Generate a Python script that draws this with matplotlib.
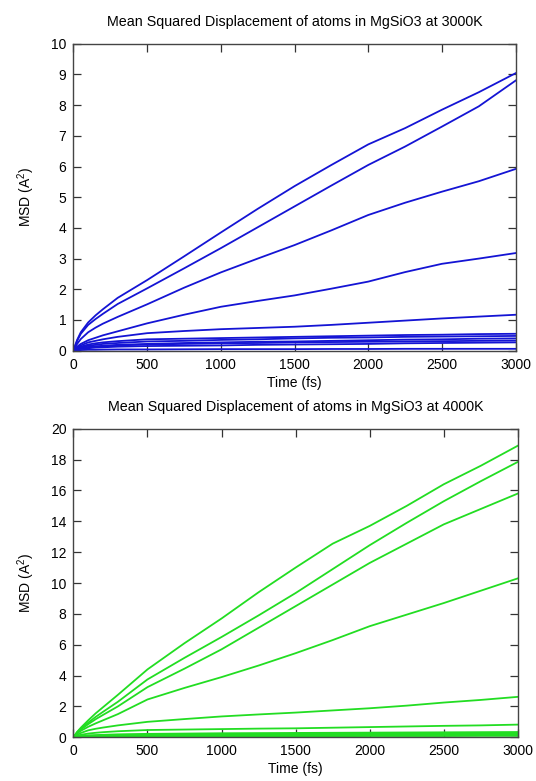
#!/usr/bin/env python3
'''MSD of atoms in MgSiO3 at 3000K and 4000K'''
import matplotlib.pyplot as plt

plt.rcParams['font.family'] = ['Liberation Sans', 'DejaVu Sans']
plt.rcParams['mathtext.fontset'] = 'custom'
plt.rcParams['mathtext.rm'] = 'Liberation Sans'

time_fs = [0, 25, 50, 100, 150, 200, 300, 500, 750, 1000, 1250, 1500, 1750,
           2000, 2250, 2500, 2750, 3000]

# 3000 K curves (A^2)
msd_3000 = [
    [0, 0.35, 0.60, 0.92, 1.15, 1.35, 1.72, 2.30, 3.07, 3.85, 4.62, 5.36, 6.05, 6.72, 7.25, 7.85, 8.42, 9.04],
    [0, 0.32, 0.55, 0.84, 1.03, 1.20, 1.52, 2.03, 2.68, 3.34, 4.02, 4.70, 5.38, 6.05, 6.65, 7.30, 7.96, 8.80],
    [0, 0.22, 0.38, 0.60, 0.75, 0.88, 1.10, 1.51, 2.05, 2.55, 3.00, 3.44, 3.92, 4.42, 4.82, 5.18, 5.52, 5.92],
    [0, 0.13, 0.22, 0.34, 0.42, 0.50, 0.63, 0.89, 1.17, 1.43, 1.62, 1.80, 2.02, 2.25, 2.56, 2.83, 3.00, 3.18],
    [0, 0.10, 0.17, 0.27, 0.32, 0.37, 0.45, 0.57, 0.64, 0.70, 0.74, 0.78, 0.84, 0.91, 0.98, 1.05, 1.11, 1.17],
    [0, 0.08, 0.13, 0.20, 0.24, 0.27, 0.31, 0.37, 0.39, 0.41, 0.43, 0.45, 0.47, 0.49, 0.51, 0.52, 0.54, 0.55],
    [0, 0.07, 0.11, 0.16, 0.19, 0.22, 0.25, 0.30, 0.32, 0.35, 0.37, 0.40, 0.42, 0.43, 0.45, 0.46, 0.47, 0.48],
    [0, 0.05, 0.08, 0.12, 0.14, 0.16, 0.19, 0.22, 0.25, 0.27, 0.29, 0.30, 0.32, 0.34, 0.36, 0.37, 0.39, 0.40],
    [0, 0.05, 0.07, 0.10, 0.13, 0.14, 0.17, 0.20, 0.22, 0.24, 0.25, 0.27, 0.28, 0.29, 0.30, 0.31, 0.32, 0.33],
    [0, 0.04, 0.06, 0.08, 0.10, 0.11, 0.13, 0.15, 0.16, 0.17, 0.19, 0.20, 0.21, 0.22, 0.24, 0.25, 0.26, 0.27],
    [0, 0.01, 0.02, 0.03, 0.03, 0.035, 0.04, 0.04, 0.045, 0.05, 0.05, 0.05, 0.055, 0.055, 0.06, 0.06, 0.06, 0.06],
]

# 4000 K curves (A^2)
msd_4000 = [
    [0, 0.35, 0.62, 1.10, 1.55, 1.95, 2.75, 4.40, 6.10, 7.70, 9.40, 11.00, 12.55, 13.70, 15.00, 16.40, 17.60, 18.90],
    [0, 0.32, 0.55, 0.95, 1.32, 1.65, 2.30, 3.75, 5.15, 6.50, 7.90, 9.35, 10.90, 12.45, 13.90, 15.30, 16.60, 17.85],
    [0, 0.30, 0.50, 0.85, 1.17, 1.45, 2.00, 3.25, 4.45, 5.70, 7.10, 8.50, 9.90, 11.30, 12.55, 13.80, 14.80, 15.80],
    [0, 0.25, 0.42, 0.68, 0.90, 1.10, 1.50, 2.45, 3.20, 3.90, 4.65, 5.45, 6.30, 7.20, 7.95, 8.70, 9.50, 10.30],
    [0, 0.16, 0.28, 0.45, 0.55, 0.63, 0.77, 1.00, 1.18, 1.35, 1.48, 1.60, 1.74, 1.88, 2.05, 2.25, 2.42, 2.62],
    [0, 0.10, 0.16, 0.24, 0.29, 0.33, 0.39, 0.47, 0.50, 0.53, 0.56, 0.58, 0.62, 0.66, 0.70, 0.74, 0.77, 0.82],
    [0, 0.05, 0.08, 0.12, 0.14, 0.16, 0.19, 0.22, 0.24, 0.26, 0.27, 0.28, 0.29, 0.30, 0.31, 0.32, 0.33, 0.34],
    [0, 0.04, 0.07, 0.10, 0.11, 0.13, 0.15, 0.17, 0.19, 0.20, 0.21, 0.22, 0.23, 0.24, 0.25, 0.26, 0.27, 0.28],
    [0, 0.03, 0.05, 0.08, 0.09, 0.10, 0.11, 0.13, 0.14, 0.15, 0.16, 0.17, 0.18, 0.19, 0.20, 0.21, 0.21, 0.22],
    [0, 0.02, 0.04, 0.06, 0.07, 0.08, 0.09, 0.10, 0.11, 0.12, 0.12, 0.13, 0.13, 0.14, 0.14, 0.15, 0.15, 0.16],
    [0, 0.01, 0.02, 0.03, 0.03, 0.04, 0.04, 0.05, 0.06, 0.06, 0.07, 0.07, 0.07, 0.08, 0.08, 0.08, 0.09, 0.09],
]

x_ticks = [0, 500, 1000, 1500, 2000, 2500, 3000]
y_ticks_3000 = list(range(0, 11))
y_ticks_4000 = list(range(0, 21, 2))


def style(ax, title, ymax, yticks):
    ax.set_xlim(0, 3000)
    ax.set_ylim(0, ymax)
    ax.set_xticks(x_ticks)
    ax.set_yticks(yticks)
    ax.tick_params(direction='in', top=True, right=True, length=6,
                   width=0.9, labelsize=10, pad=5, colors='#333333',
                   labelcolor='black')
    for spine in ax.spines.values():
        spine.set_color('#444444')
        spine.set_linewidth(1.0)
    ax.set_title(title, fontsize=10.3, pad=13)
    ax.set_xlabel('Time (fs)', fontsize=10, labelpad=3)
    ax.set_ylabel('MSD (A$^2$)', fontsize=10, labelpad=10)


fig = plt.figure(figsize=(5.36, 7.81), dpi=100)
ax1 = fig.add_axes([0.137, 0.551, 0.825, 0.393])
ax2 = fig.add_axes([0.137, 0.056, 0.829, 0.395])

for curve in msd_3000:
    ax1.plot(time_fs, curve, color='#1414d4', linewidth=1.3)
for curve in msd_4000:
    ax2.plot(time_fs, curve, color='#22dd22', linewidth=1.3)

style(ax1, 'Mean Squared Displacement of atoms in MgSiO3 at 3000K', 10, y_ticks_3000)
style(ax2, 'Mean Squared Displacement of atoms in MgSiO3 at 4000K', 20, y_ticks_4000)

plt.savefig('out.png', dpi=100)
